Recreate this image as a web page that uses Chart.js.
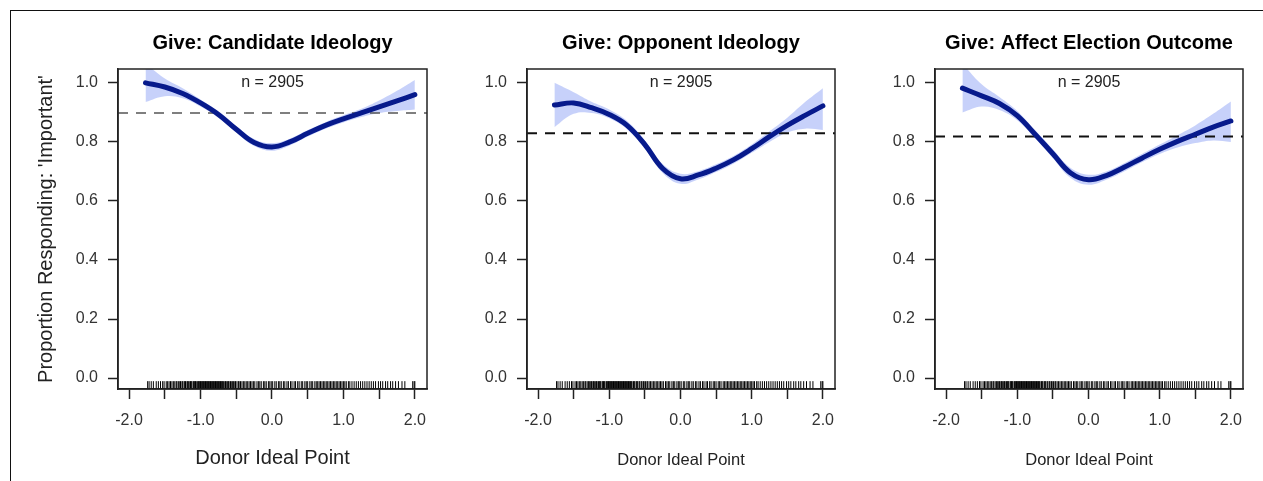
<!DOCTYPE html>
<html>
<head>
<meta charset="utf-8">
<script src="https://cdn.jsdelivr.net/npm/chart.js@4"></script>
<style>
  body { margin: 0; background: #fff; }
  #wrap { position: relative; width: 1263px; height: 481px; overflow: hidden; }
  #frame { position: absolute; left: 10px; top: 10px; width: 1300px; height: 500px;
           border-top: 1.5px solid #111; border-left: 1.5px solid #111; }
  canvas { position: absolute; top: 0; }
</style>
</head>
<body>
<div id="wrap">
  <div id="frame"></div>
  <canvas id="c0" width="440" height="481" style="left:0px"></canvas>
  <canvas id="c1" width="420" height="481" style="left:440px"></canvas>
  <canvas id="c2" width="403" height="481" style="left:860px"></canvas>
</div>
<script>
// panel titles
const titles = ['Give: Candidate Ideology', 'Give: Opponent Ideology', 'Give: Affect Election Outcome']
const nLabel = 'n = 2905'

// donor ideal point grid for the fitted curves
const xs = [-1.77, -1.5, -1.25, -1.0, -0.75, -0.5, -0.25, 0, 0.25, 0.5, 0.75, 1.0, 1.25, 1.5, 1.75, 2.0]

// fitted proportion and band, one array per panel
const fitCandidate = [1.0, 0.986, 0.964, 0.932, 0.893, 0.843, 0.798, 0.783, 0.8, 0.829, 0.856, 0.878, 0.898, 0.919, 0.939, 0.96]
const loCandidate  = [0.935, 0.955, 0.948, 0.92, 0.882, 0.832, 0.786, 0.77, 0.788, 0.818, 0.845, 0.866, 0.884, 0.898, 0.905, 0.91]
const hiCandidate  = [1.065, 1.015, 0.982, 0.944, 0.904, 0.854, 0.81, 0.796, 0.811, 0.84, 0.867, 0.89, 0.912, 0.94, 0.973, 1.01]

const fitOpponent = [0.925, 0.932, 0.916, 0.893, 0.856, 0.791, 0.71, 0.675, 0.688, 0.711, 0.74, 0.777, 0.818, 0.856, 0.89, 0.922]
const loOpponent  = [0.85, 0.895, 0.898, 0.88, 0.843, 0.777, 0.695, 0.658, 0.673, 0.698, 0.727, 0.763, 0.8, 0.832, 0.845, 0.84]
const hiOpponent  = [1.0, 0.968, 0.936, 0.91, 0.871, 0.805, 0.725, 0.692, 0.701, 0.724, 0.753, 0.791, 0.836, 0.882, 0.935, 0.982]

const fitOutcome = [0.982, 0.956, 0.93, 0.889, 0.826, 0.76, 0.695, 0.672, 0.686, 0.714, 0.745, 0.775, 0.802, 0.826, 0.85, 0.871]
const loOutcome  = [0.9, 0.92, 0.908, 0.873, 0.812, 0.745, 0.678, 0.655, 0.672, 0.7, 0.731, 0.759, 0.781, 0.796, 0.805, 0.8]
const hiOutcome  = [1.065, 0.995, 0.952, 0.905, 0.84, 0.775, 0.712, 0.689, 0.7, 0.728, 0.759, 0.791, 0.823, 0.856, 0.895, 0.937]

// overall proportion (dashed line)
const baseline = [0.898, 0.829, 0.818]

// rug of donor ideal points
const rug = [-1.74,-1.72,-1.69,-1.66,-1.62,-1.59,-1.56,-1.53,-1.51,-1.48,-1.46,-1.44,-1.42,-1.40,-1.38,-1.36,-1.34,-1.33,-1.31,-1.29,
  -1.28,-1.26,-1.25,-1.23,-1.22,-1.21,-1.19,-1.18,-1.17,-1.15,-1.14,-1.13,-1.12,-1.10,-1.09,-1.08,-1.07,-1.06,-1.04,-1.03,
  -1.02,-1.01,-1.00,-0.99,-0.98,-0.97,-0.96,-0.95,-0.94,-0.93,-0.92,-0.91,-0.90,-0.89,-0.88,-0.87,-0.86,-0.85,-0.84,-0.83,
  -0.82,-0.81,-0.80,-0.79,-0.78,-0.77,-0.76,-0.75,-0.74,-0.73,-0.72,-0.71,-0.70,-0.69,-0.68,-0.66,-0.65,-0.64,-0.62,-0.61,
  -0.60,-0.58,-0.57,-0.55,-0.54,-0.52,-0.51,-0.49,-0.47,-0.46,-0.44,-0.42,-0.40,-0.38,-0.36,-0.34,-0.32,-0.30,-0.28,-0.26,
  -0.24,-0.21,-0.19,-0.17,-0.15,-0.12,-0.10,-0.08,-0.05,-0.03,-0.01,0.01,0.04,0.06,0.09,0.11,0.13,0.16,0.18,0.21,
  0.23,0.26,0.28,0.31,0.33,0.36,0.38,0.41,0.43,0.46,0.48,0.50,0.53,0.55,0.57,0.60,0.62,0.64,0.66,0.68,
  0.70,0.72,0.74,0.76,0.78,0.80,0.82,0.84,0.86,0.88,0.90,0.92,0.94,0.96,0.98,1.00,1.02,1.04,1.07,1.09,
  1.12,1.15,1.18,1.21,1.24,1.27,1.30,1.33,1.36,1.39,1.42,1.45,1.49,1.52,1.55,1.59,1.62,1.66,1.69,1.73,
  1.77,1.82,1.86,1.97,1.99,2.0]

// tick values
const xTicks = [-2, -1.5, -1, -0.5, 0, 0.5, 1, 1.5, 2]
const yTicks = [0, 0.2, 0.4, 0.6, 0.8, 1.0]

const xLabel = 'Donor Ideal Point'
const yLabel = "Proportion Responding: 'Important'"

const fits = [fitCandidate, fitOpponent, fitOutcome]
const los = [loCandidate, loOpponent, loOutcome]
const his = [hiCandidate, hiOpponent, hiOutcome]

Chart.defaults.font.family = "'Liberation Sans', Arial, sans-serif"
Chart.defaults.color = '#333'

const X_MIN = -2.155, X_MAX = 2.17
const Y_MIN = -0.037, Y_MAX = 1.047

// chart-area geometry per canvas
const layouts = [
    { yWidth: 118, right: 13 },
    { yWidth: 87, right: 25 },
    { yWidth: 75, right: 20 }
]

const toPts = (ys) => xs.map((x, i) => ({ x: x, y: ys[i] }))

const panelPlugin = {
    id: 'panel',
    afterDraw(chart, args, opts) {
        const { ctx, chartArea: a } = chart
        ctx.save()
        ctx.strokeStyle = '#222'
        ctx.lineWidth = 1.5
        ctx.strokeRect(a.left, a.top, a.right - a.left, a.bottom - a.top)
        const cx = (a.left + a.right) / 2
        ctx.textAlign = 'center'
        ctx.textBaseline = 'middle'
        ctx.fillStyle = '#000'
        ctx.font = "bold 20px 'Liberation Sans', Arial, sans-serif"
        ctx.fillText(opts.title, cx, 43)
        ctx.fillStyle = '#222'
        ctx.font = "16px 'Liberation Sans', Arial, sans-serif"
        ctx.fillText(nLabel, cx, 83)
        ctx.restore()
    }
}

function makeChart(i) {
    const ctx = document.getElementById('c' + i)
    const lay = layouts[i]
    const first = i === 0

    return new Chart(ctx, {
        type: 'line',
        data: {
            datasets: [
                {
                    data: toPts(los[i]),
                    borderWidth: 0,
                    pointRadius: 0,
                    tension: 0.4,
                    fill: false,
                    order: 3
                },
                {
                    data: toPts(his[i]),
                    borderWidth: 0,
                    pointRadius: 0,
                    tension: 0.4,
                    backgroundColor: 'rgba(196,207,250,0.95)',
                    fill: '-1',
                    order: 3
                },
                {
                    data: toPts(fits[i]),
                    borderColor: '#071a8c',
                    borderWidth: 5,
                    pointRadius: 0,
                    tension: 0.4,
                    borderCapStyle: 'round',
                    fill: false,
                    order: 0
                },
                {
                    data: [{ x: X_MIN, y: baseline[i] }, { x: X_MAX, y: baseline[i] }],
                    borderColor: first ? '#555' : '#111',
                    borderWidth: first ? 1.5 : 2,
                    borderDash: [10, 8],
                    pointRadius: 0,
                    fill: false,
                    order: 1
                },
                {
                    type: 'scatter',
                    data: rug.map(v => ({ x: v, y: -0.024 })),
                    pointStyle: 'line',
                    rotation: 90,
                    radius: 4,
                    borderWidth: 1,
                    borderColor: '#000',
                    order: 2
                }
            ]
        },
        plugins: [panelPlugin],
        options: {
            responsive: false,
            animation: false,
            events: [],
            layout: { padding: { top: 69, right: lay.right, left: 0, bottom: 0 } },
            plugins: {
                legend: { display: false },
                tooltip: { enabled: false },
                panel: { title: titles[i] }
            },
            scales: {
                x: {
                    type: 'linear',
                    min: X_MIN,
                    max: X_MAX,
                    afterBuildTicks: (s) => { s.ticks = xTicks.map(v => ({ value: v })) },
                    afterFit: (s) => { s.height = 92 },
                    grid: { drawOnChartArea: false, tickLength: 10, tickColor: '#222', tickWidth: 1.5 },
                    border: { display: true, color: '#222', width: 1.5 },
                    ticks: {
                        padding: 12,
                        maxRotation: 0,
                        autoSkip: false,
                        font: { size: 16 },
                        color: '#333',
                        callback: (v) => Number.isInteger(v) ? v.toFixed(1) : ''
                    },
                    title: {
                        display: true,
                        text: xLabel,
                        color: '#222',
                        font: { size: first ? 20 : 16.5 },
                        padding: { top: 0, bottom: 11 }
                    }
                },
                y: {
                    min: Y_MIN,
                    max: Y_MAX,
                    afterBuildTicks: (s) => { s.ticks = yTicks.map(v => ({ value: v })) },
                    afterFit: (s) => { s.width = lay.yWidth },
                    grid: { drawOnChartArea: false, tickLength: 10, tickColor: '#222', tickWidth: 1.5 },
                    border: { display: true, color: '#222', width: 1.5 },
                    ticks: {
                        padding: 10,
                        font: { size: 16 },
                        color: '#333',
                        callback: (v) => v.toFixed(1)
                    },
                    title: {
                        display: first,
                        text: yLabel,
                        color: '#222',
                        font: { size: 20 },
                        padding: { top: 34, bottom: 0 }
                    }
                }
            }
        }
    })
}

for (let i = 0; i < 3; i++) makeChart(i)
</script>
</body>
</html>
